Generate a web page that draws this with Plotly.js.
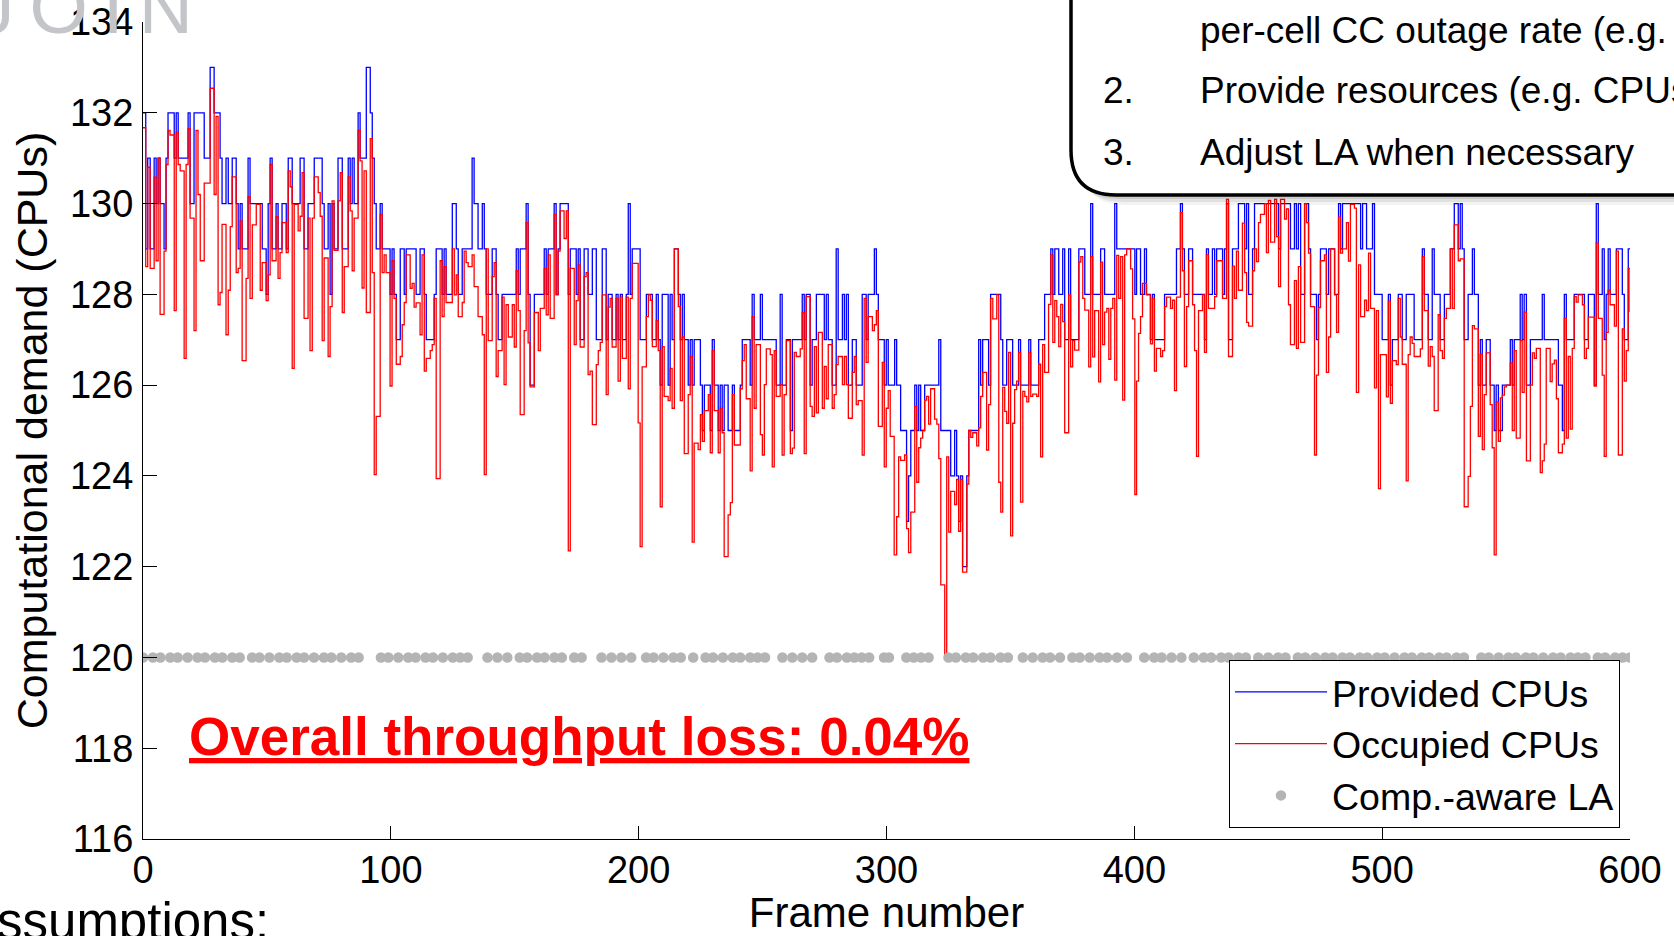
<!DOCTYPE html>
<html>
<head>
<meta charset="utf-8">
<script src="https://cdn.plot.ly/plotly-3.0.1.min.js"></script>
<style>
html,body{margin:0;padding:0;background:#ffffff;}
#chart{width:1674px;height:936px;}
</style>
</head>
<body>
<div id="chart"></div>
<script>
// ---------------- DATA ----------------
// Provided CPUs: [frame where the step starts, number of CPUs]
const providedSteps = [
[0,132],[1.1,129],[1.9,131],[2.9,129],[4.5,131],[5.3,130],[6.1,131],[6.9,130],[8.5,129],[9.3,131],[10.1,132],[12.6,131],[13.4,132],[14.2,131],[18.2,132],[19,130],[20.6,132],[24.7,131],[27.1,133],[28.7,132],[31.1,131],[31.9,130],[33.5,131],[34.4,130],[36,131],[37.6,130],[38.4,129],[39.2,130],[40,129],[42.4,131],[43.2,130],[48.1,129],[49.7,128],[50.5,130],[51.3,131],[52.1,129],[53.7,130],[54.5,129],[56.1,130],[57.8,129],[58.6,131],[60.2,130],[63.4,131],[65,129],[66.6,130],[69.1,131],[72.3,130],[73.1,129],[74.7,130],[75.5,128],[76.3,130],[77.1,129],[78.7,131],[80.4,129],[82.8,131],[83.6,130],[84.4,131],[85.2,130],[86.8,132],[87.6,131],[90.1,133],[91.7,132],[92.5,131],[93.3,130],[94.1,129],[95.7,130],[96.5,129],[99.7,128],
[100.5,129],[101.3,128],[102.2,127],[103.8,129],[105.4,128],[106.2,129],[110.2,128],[111.8,129],[113.5,128],[114.3,127],[117.5,128],[118.3,129],[120.7,128],[121.5,129],[122.3,128],[124.8,130],[126.4,129],[127.2,128],[128.8,129],[132.8,131],[133.6,130],[135.2,129],[136.9,130],[137.7,129],[138.5,128],[140.9,129],[142.5,128],[143.3,127],[144.9,128],[150.6,129],[151.4,128],[152.2,129],[154.6,130],[155.4,128],[156.2,126],[157.9,128],[161.9,129],[162.7,128],[163.5,129],[165.9,130],[166.7,128],[167.5,129],[168.3,130],[171.6,128],[172.4,129],[174.8,128],[175.6,129],[176.4,127],[178,129],[179.6,128],[181.3,129],[182.9,127],[185.3,129],[186.9,127],[187.7,128],[189.3,127],[190.9,128],[191.7,127],[192.6,128],[193.4,127],[195,128],[195.8,130],[196.6,128],[197.4,129],[200.6,127],
[203.1,128],[205.5,127],[207.1,128],[207.9,127],[208.7,126],[209.5,128],[211.9,126],[212.7,128],[213.5,127],[214.4,129],[216,128],[216.8,127],[217.6,128],[218.4,127],[220,126],[220.8,127],[221.6,126],[222.4,127],[224.9,126],[225.7,125],[226.5,126],[228.9,125],[229.7,127],[230.5,126],[232.1,125],[232.9,126],[233.7,125],[234.5,126],[236.1,125],[237.8,126],[238.6,125],[241,126],[241.8,127],[245,126],[245.8,128],[246.6,127],[249.1,128],[249.9,127],[255.5,126],[257.1,128],[257.9,126],[259.6,127],[261.2,125],[262,127],[266,128],[266.8,127],[267.6,128],[269.2,126],[270,127],[271.7,128],[274.9,127],[275.7,128],[276.5,127],[278.1,126],[279.7,129],[280.5,127],[282.2,128],[283,127],[283.8,128],[284.6,126],[286.2,127],[287.8,126],[290.2,128],[291.8,127],[292.6,128],[295.1,129],[295.9,128],[296.7,127],[299.1,126],[299.9,127],[300.7,126],
[303.3,127],[304.1,126],[305.7,125],[308.1,123],[308.9,124],[309.8,125],[311.4,126],[312.2,125],[313,126],[313.8,125],[315.4,126],[321.1,127],[321.9,125],[325.9,124],[327.5,125],[328.3,124],[329.1,123],[329.9,124],[330.7,122],[332.4,124],[333.2,125],[337.2,127],[338,126],[338.8,127],[341.2,126],[342,128],[346.1,127],[346.9,126],[348.5,127],[350.9,126],[353.3,127],[354.1,126],[357.4,127],[358.2,126],[361.4,127],[363.8,128],[366.3,129],[367.1,128],[367.9,129],[369.5,128],[371.1,129],[371.9,127],[373.5,129],[374.3,127],[377.6,129],[380,128],[382.4,130],[383.2,128],[386.4,129],[388,128],[392.1,130],[392.9,129],
[400.2,128],[400.9,129],[402.5,128],[404.1,129],[404.9,128],[406.5,127],[407.3,128],[408.1,127],[412.2,128],[417,129],[418.6,130],[419.4,129],[420.2,128],[421.9,129],[423.5,128],[428.3,127],[429.1,129],[429.9,128],[431.5,129],[432.4,128],[433.2,129],[435.6,128],[436.4,129],[437.2,130],[438,127],[439.6,129],[442,130],[444.5,129],[445.3,130],[446.1,128],[447.7,129],[448.5,130],[458.2,129],[459,130],[463,129],[464.6,130],[465.4,129],[466.2,130],[467.1,128],[468.7,130],[470.3,129],[471.1,128],[473.5,127],[474.3,128],[475.1,129],[477.5,128],[478.4,129],[480.8,128],[482.4,130],[483.2,129],[484,130],[491.3,129],[492.1,130],[493.7,129],[496.1,130],[496.9,128],
[500,127],[502.5,128],[503.3,126],[504.1,127],[506.5,128],[508.1,127],[509.7,128],[512.9,127],[516.2,129],[517,128],[518.6,127],[520.2,129],[521,128],[523.4,127],[525.1,128],[527.5,129],[529.1,130],[530.7,129],[531.5,130],[532.3,129],[533.1,127],[534.7,128],[536.4,129],[537.2,128],[538.8,126],[539.6,127],[540.4,126],[542,127],[543.6,126],[545.2,125],[546,126],[546.9,125],[548.5,126],[551.7,127],[552.5,126],[553.3,127],[555.7,128],[556.5,127],[557.3,128],[558.2,126],[559.8,127],[564.6,128],[565.4,127],[571.1,126],[572.7,125],[573.5,128],[574.3,127],[577.5,128],[581.6,127],[583.2,128],[585.6,126],[586.4,130],[587.2,128],[588.8,129],[589.6,127],[590.4,128],[591.2,129],[592,128],[594.5,129],[596.9,128],[597.7,127],[599.3,129],[600,129]
];

// Occupied CPUs: [frame where the step starts, occupied CPUs]
const occupiedSteps = [
[0,131.67],[1.1,128.61],[1.9,130.8],[2.9,128.57],[4.5,130.58],[5.3,128.74],[6.1,131.0],[6.9,127.56],[8.5,128.95],[9.3,130.86],[10.1,131.61],[10.9,131.51],[12.6,127.64],[13.4,131.57],[14.2,130.86],[15,130.72],[16.6,126.59],[17.4,130.86],[18.2,131.65],[19,129.68],[20.6,127.2],[21.4,131.61],[22.2,130.2],[23.1,128.74],[24.7,130.45],[27.1,132.54],[28.7,130.2],[29.5,131.92],[30.3,127.77],[31.1,128.04],[31.9,129.54],[33.5,127.11],[34.4,128.09],[35.2,129.49],[36,130.59],[37.6,128.48],[38.4,128.57],[39.2,129.62],[40,126.54],[41.6,128.35],[42.4,130.15],[43.2,127.91],[44.1,129.53],[45.7,129.98],[47.3,128.09],[48.1,128.7],[49.7,127.86],[50.5,128.43],[51.3,130.86],[52.1,128.74],[53.7,129.71],[54.5,128.35],[55.3,128.92],[56.1,129.58],[57.8,128.92],[58.6,130.72],[59.4,130.37],[60.2,126.37],[61,129.98],[62.6,129.4],[63.4,129.72],[64.2,130.68],[65,127.47],[66.6,129.68],[67.4,126.76],[68.3,129.68],[69.1,130.59],[70.7,130.24],[71.5,129.72],[72.3,126.98],[73.1,128.8],[74.7,126.63],[75.5,127.73],[76.3,130.06],[77.1,128.97],[78.7,130.06],[79.6,130.68],[80.4,127.6],[81.2,128.61],[82.8,130.59],[83.6,129.84],[84.4,128.52],[85.2,129.68],[86.8,131.61],[87.6,130.94],[88.4,128.14],[89.2,130.72],[90.1,127.6],[91.7,131.43],[92.5,128.48],[93.3,124.03],[94.1,125.31],[95.7,129.76],[96.5,128.48],[97.3,128.87],[98.1,128.48],[99.7,125.98],
[100.5,128.74],[101.3,127.91],[102.2,126.46],[103.8,126.63],[104.6,127.33],[105.4,127.82],[106.2,128.87],[107.8,128.13],[108.6,128.24],[109.4,127.72],[110.2,127.81],[111.8,127.11],[112.6,128.87],[113.5,126.31],[114.3,126.59],[115.9,126.76],[116.7,126.89],[117.5,127.91],[118.3,123.94],[119.9,128.74],[120.7,127.51],[121.5,128.61],[122.3,127.82],[124.8,129.0],[125.6,127.99],[126.4,128.43],[127.2,127.51],[128.8,127.82],[129.6,128.95],[130.4,128.7],[131.2,128.61],[132.8,128.87],[133.6,128.17],[135.2,127.51],[136.9,127.11],[137.7,124.03],[138.5,129.0],[139.3,126.98],[140.9,128.39],[141.7,128.7],[142.5,126.19],[143.3,126.76],[144.9,127.94],[145.7,126.01],[146.5,127.77],[147.4,127.06],[149,127.77],[149.8,126.84],[150.6,128.52],[151.4,127.64],[152.2,125.35],[153.8,127.2],[154.6,129.58],[155.4,126.93],[156.2,125.96],[157.9,127.6],[159.5,126.76],[160.3,127.69],[161.9,128.57],[162.7,127.55],[163.5,128.87],[164.3,127.47],[165.9,129.76],[166.7,127.99],[167.5,128.95],[168.3,129.84],[169.9,129.23],[170.8,129.84],[171.6,122.35],[172.4,128.57],[174,126.89],[174.8,127.86],[175.6,128.65],[176.4,126.84],[178,128.39],[178.8,128.48],[179.6,126.23],[180.4,126.31],[181.3,125.13],[182.9,126.45],[183.7,126.76],[184.5,126.94],[185.3,127.99],[186.9,125.79],[187.7,127.72],[188.5,127.91],[189.3,126.84],[190.9,127.91],[191.7,126.09],[192.6,127.94],[193.4,126.59],[195,127.94],[195.8,125.92],[196.6,127.91],[197.4,128.68],[199.8,125.17],[200.6,122.44],[201.4,126.4],
[203.1,127.51],[203.9,127.99],[204.7,127.87],[205.5,126.85],[207.1,127.42],[207.9,126.76],[208.7,123.32],[209.5,126.85],[210.3,125.75],[211.9,125.66],[212.7,126.37],[213.5,125.49],[214.4,129.0],[216,127.73],[216.8,125.66],[217.6,127.06],[218.4,124.49],[220,125.79],[220.8,126.63],[221.6,122.54],[222.4,124.72],[224,124.58],[224.9,125.35],[225.7,124.76],[226.5,125.44],[228.1,125.79],[228.9,124.51],[229.7,126.76],[230.5,125.44],[232.1,124.51],[232.9,125.49],[233.7,124.95],[234.5,122.22],[236.1,123.14],[237,123.41],[237.8,125.79],[238.6,124.68],[241,125.92],[241.8,126.54],[242.6,126.89],[243.4,125.7],[245,124.11],[245.8,127.51],[246.6,125.49],[247.4,126.89],[249.1,124.91],[249.9,124.46],[250.7,126.01],[251.5,126.8],[253.1,126.67],[253.9,124.2],[254.7,126.76],[255.5,125.75],[257.1,126.01],[257.9,124.46],[258.7,125.79],[259.6,126.98],[261.2,124.49],[262,124.61],[262.8,126.72],[263.6,126.63],[265.2,126.8],[266,127.6],[266.8,124.49],[267.6,127.95],[269.2,125.53],[270,125.31],[270.9,126.85],[271.7,125.39],[272.5,127.16],[274.1,125.49],[274.9,126.41],[275.7,125.7],[276.5,126.89],[278.1,125.49],[278.9,125.79],[279.7,126.45],[280.5,126.63],[282.2,126.01],[283,126.63],[283.8,126.01],[284.6,125.27],[286.2,126.28],[287,126.63],[287.8,125.57],[288.6,125.66],[290.2,124.46],[291,127.91],[291.8,126.5],[292.6,127.51],[294.3,127.2],[295.1,127.33],[295.9,127.64],[296.7,125.09],[298.3,126.5],[299.1,124.2],[299.9,125.49],[300.7,125.88],[301.5,124.87],[303.1,122.26],
[304.1,123.1],[304.9,124.42],[305.7,124.34],[307.3,124.46],[308.1,122.84],[308.9,122.31],[309.8,123.2],[311.4,125.53],[312.2,123.86],[313,124.62],[313.8,124.83],[314.6,125.0],[315.4,125.67],[316.2,125.75],[317,125.14],[317.8,125.92],[319.4,125.25],[320.3,125.14],[321.1,124.38],[321.9,121.6],[323.5,120.0],[324.3,124.42],[325.1,122.76],[325.9,123.66],[327.5,123.37],[328.3,123.92],[329.1,122.78],[329.9,123.92],[330.7,121.88],[332.4,123.82],[333.2,125.0],[334,124.85],[334.8,124.95],[336.4,124.66],[337.2,125.06],[338,125.75],[338.8,126.28],[340.4,124.57],[341.2,125.57],[342,127.91],[342.9,127.46],[344.5,127.99],[345.3,123.86],[346.1,123.2],[346.9,125.95],[347.7,125.42],[348.5,125.16],[349.3,126.72],[350.1,122.68],[350.9,125.16],[351.7,125.9],[352.5,126.09],[353.3,126.72],[354.1,123.42],[355,125.86],[355.8,125.75],[356.6,125.63],[357.4,126.72],[358.2,125.75],[359,125.8],[360.6,125.75],[361.4,126.46],[362.2,124.42],[363,126.89],[363.8,126.28],[365.4,127.78],[366.3,128.87],[367.1,126.94],[367.9,127.86],[368.7,127.51],[369.5,126.85],[370.3,127.78],[371.1,127.4],[371.9,124.95],[373.5,127.99],[374.3,126.4],[375.1,126.98],[375.9,126.77],[377.6,128.71],[378.4,128.83],[379.2,127.91],[380,127.65],[381.6,126.4],[382.4,128.83],[383.2,126.62],[384,127.64],[385.6,126.07],[386.4,128.71],[387.2,126.89],[388,127.61],[388.9,127.69],[389.7,126.57],[390.5,127.69],[391.3,127.91],[392.1,126.11],[392.9,128.86],[393.7,127.91],[394.5,128.83],[395.3,125.67],[396.1,128.87],[396.9,129.0],[398.5,128.56],[399.3,127.46],[400.2,123.59],
[400.9,126.09],[401.7,127.14],[402.5,127.51],[403.3,128.24],[404.9,127.99],[406.5,126.91],[407.3,127.91],[408.1,126.31],[408.9,126.81],[410.6,126.63],[411.4,126.76],[412.2,127.73],[413,127.94],[414.6,127.69],[415.4,127.87],[416.2,125.88],[417,127.94],[418.6,129.8],[419.4,128.52],[420.2,126.41],[421.1,127.73],[421.9,128.74],[423.5,127.77],[424.3,126.76],[425.1,124.43],[425.9,127.64],[427.5,127.99],[428.3,126.72],[429.1,128.87],[429.9,127.69],[432.4,127.95],[433.2,128.74],[435.6,127.91],[437.2,130.09],[438,126.63],[439.6,128.62],[440.4,127.91],[441.2,128.95],[442,128.09],[443.6,129.57],[444.5,128.48],[445.3,127.38],[446.1,127.3],[447.7,128.52],[448.5,129.0],[449.3,128.72],[450.1,129.58],[450.9,129.76],[452.5,130.0],[453.3,128.92],[454.1,130.07],[455,129.15],[456.6,130.09],[457.4,129.27],[458.2,128.17],[459,130.09],[460.6,129.66],[461.4,129.88],[462.2,127.77],[463,126.89],[464.6,128.3],[465.4,126.81],[466.2,128.61],[467.1,126.94],[468.7,130.0],[469.5,129.58],[470.3,128.91],[471.1,127.73],[472.7,124.46],[473.5,126.22],[474.3,127.71],[475.1,128.74],[476.7,128.87],[477.5,126.28],[478.4,127.06],[479.2,129.0],[480.8,127.99],[481.6,127.16],[482.4,129.7],[483.2,128.91],[484,129.0],[485.6,129.58],[486.4,128.73],[487.2,129.98],[488.8,129.9],[489.6,125.84],[490.5,128.65],[491.3,127.51],[492.9,127.87],[493.7,127.64],[494.5,128.91],[495.3,127.69],[496.9,125.94],[497.7,127.64],[498.5,123.72],[499.3,126.67],
[501.7,125.74],[502.5,127.85],[503.3,125.6],[504.1,126.54],[505.7,126.45],[506.5,127.91],[507.3,127.06],[508.1,126.46],[509.7,123.89],[510.5,126.67],[511.3,127.06],[512.1,126.92],[512.9,126.63],[515.4,126.8],[516.2,128.83],[517,127.64],[518.6,126.42],[519.4,126.85],[520.2,126.63],[521,125.44],[522.6,127.55],[523.4,126.76],[524.3,126.59],[525.1,127.47],[525.9,127.69],[527.5,129.0],[528.3,127.69],[529.1,129.53],[530.7,128.74],[531.5,128.78],[533.1,123.32],[534.7,123.99],[535.6,125.53],[536.4,127.31],[537.2,127.24],[538.8,124.87],[539.6,126.69],[540.4,124.58],[541.2,125.79],[542,126.71],[543.6,125.57],[544.4,124.62],[545.2,122.26],[546,125.63],[546.9,124.76],[547.7,125.72],[548.5,125.78],[549.3,125.96],[550.1,126.0],[551.7,126.49],[552.5,125.0],[553.3,126.76],[554.1,124.83],[555.7,126.98],[556.5,125.84],[557.3,127.61],[558.2,124.33],[559.8,126.0],[560.6,126.71],[561.4,126.59],[562.2,126.81],[563.8,124.07],[564.6,124.33],[565.4,124.7],[566.2,126.81],[567.8,126.08],[568.6,126.47],[569.5,126.55],[570.3,125.7],[571.1,124.51],[572.7,124.7],[573.5,127.47],[574.3,124.83],[575.1,126.63],[575.9,125.03],[576.7,126.81],[577.5,127.95],[578.3,127.83],[579.1,127.99],[580.8,127.77],[581.6,126.59],[582.4,126.81],[583.2,127.5],[585.6,125.98],[586.4,129.13],[587.2,127.47],[588.8,126.22],[589.6,124.43],[590.4,127.16],[591.2,128.09],[592,127.77],[593.7,127.3],[594.5,128.95],[595.3,124.46],[596.9,127.24],[597.7,126.09],[598.5,126.76],[599.3,128.57],[600,127.61]
];

// Frames marked by computation-aware link adaptation (drawn at the 120-CPU level)
const laFrames = [
0,4,7,11,14,18,22,25,29,32,36,39,
44,47,51,55,58,62,65,69,73,76,80,84,87,
96,99,103,107,110,114,117,121,125,128,131,
139,143,147,
152,155,159,162,166,169,
174,177,
185,189,193,197,
203,206,210,214,217,
222,
227,230,234,238,241,245,248,251,
258,262,266,270,
277,280,284,287,290,293,
299,301,
308,311,314,317,
325,328,332,335,339,342,346,349,
355,359,363,366,370,
375,378,382,386,389,393,397,
404,408,411,415,419,
424,428,431,435,438,442,445,
450,454,458,461,
466,469,473,477,480,484,487,491,494,498,501,505,509,512,516,519,523,526,530,533,
540,543,547,551,554,558,561,565,569,572,576,579,582,
587,590,594,597,600
];
const laLevel = [120];

const xTickVals = [0,100,200,300,400,500,600];
const yTickVals = [116,118,120,122,124,126,128,130,132,134];

const seriesNames = ['Provided CPUs','Occupied CPUs','Comp.-aware LA'];
const xTitle = 'Frame number';
const yTitle = 'Computational demand (CPUs)';
const lossText = 'Overall throughput loss: 0.04%';
const boxLines = ['per-cell CC outage rate (e.g.','Provide resources (e.g. CPUs)','Adjust LA when necessary'];
const boxNumbers = ['2.','3.'];

// ---------------- helpers (pixel placement of decorations) ----------------
const W = 1674, H = 936;
const M = {l:143, r:44, t:22, b:97};
const PW = W - M.l - M.r, PH = H - M.t - M.b;
const PX = x => (x - M.l) / PW;
const PY = y => (H - M.b - y) / PH;

const FONT = 'Arial, "Liberation Sans", sans-serif';

const traces = [
  {
    x: providedSteps.map(p => p[0]), y: providedSteps.map(p => p[1]),
    type: 'scatter', mode: 'lines', name: seriesNames[0],
    line: {color: '#0000ff', width: 1.3, shape: 'hv', simplify: false}
  },
  {
    x: occupiedSteps.map(p => p[0]), y: occupiedSteps.map(p => p[1]),
    type: 'scatter', mode: 'lines', name: seriesNames[1],
    line: {color: '#ff0000', width: 1.3, shape: 'hv', simplify: false}
  },
  {
    x: laFrames, y: laFrames.map(() => laLevel[0]),
    type: 'scatter', mode: 'markers', name: seriesNames[2],
    marker: {color: '#b4b4b4', size: 10.5, line: {width: 0}}
  }
];

// callout box (rounded corner at bottom-left, extends past the top/right edges)
function boxPath(dx, dy) {
  const x0 = PX(1071 + dx), x1 = PX(1116 + dx), x2 = PX(1760);
  const yT = PY(-40), yC = PY(150 + dy), yB = PY(195 + dy);
  return `M${x0},${yT} L${x0},${yC} Q${x0},${yB} ${x1},${yB} L${x2},${yB} L${x2},${yT} Z`;
}
const shapes = [];
[[10,10,0.05],[7,7,0.07],[4,4,0.09]].forEach(([dx,dy,op]) => {
  shapes.push({type:'path', xref:'paper', yref:'paper', path: boxPath(dx,dy),
    fillcolor:`rgba(0,0,0,${op})`, line:{width:0}, layer:'above'});
});
shapes.push({type:'path', xref:'paper', yref:'paper', path: boxPath(0,0),
  fillcolor:'#ffffff', line:{color:'#000000', width:3.5}, layer:'above'});

const ann = (text, px, py, size, opts) => Object.assign({
  text, x: PX(px), y: PY(py), xref:'paper', yref:'paper',
  xanchor:'left', yanchor:'middle', showarrow:false,
  font:{family: FONT, size, color:'#000000'}
}, opts || {});

const annotations = [
  // watermark logo fragment
  ann('<span style="letter-spacing:15px">JOIN</span>', -25, 7, 75, {font:{family:FONT, size:75, color:'#c3c5c8'}}),
  // red headline
  ann('<b><u>' + lossText + '</u></b>', 187, 736, 53, {font:{family:FONT, size:53, color:'#ff0000'}}),
  // callout texts
  ann(boxLines[0], 1198, 30, 37),
  ann(boxNumbers[0], 1101, 91, 37),
  ann(boxLines[1], 1198, 91, 37),
  ann(boxNumbers[1], 1101, 152, 37),
  ann(boxLines[2], 1198, 152, 37),
  // slide text cut at the bottom-left
  ann('Assumptions:', -39, 921, 51)
];

const layout = {
  width: W, height: H,
  margin: M,
  paper_bgcolor: '#ffffff', plot_bgcolor: '#ffffff',
  font: {family: FONT, size: 38, color: '#000000'},
  showlegend: true,
  legend: {
    x: PX(1620), xanchor: 'right', y: PY(828), yanchor: 'bottom',
    bgcolor: '#ffffff', bordercolor: '#000000', borderwidth: 1,
    font: {family: FONT, size: 37.5, color: '#000000'},
    itemwidth: 92, tracegroupgap: 0
  },
  xaxis: {
    range: [0, 600], tickvals: xTickVals, ticktext: xTickVals.map(String),
    ticks: 'inside', ticklen: 13, tickwidth: 1, tickcolor: '#000000',
    showline: true, linecolor: '#000000', linewidth: 1, mirror: false,
    showgrid: false, zeroline: false,
    tickfont: {family: FONT, size: 38, color: '#000000'},
    ticklabelstandoff: -3,
    title: {text: xTitle, font: {family: FONT, size: 42, color: '#000000'}, standoff: 18}
  },
  yaxis: {
    range: [116, 134], tickvals: yTickVals, ticktext: yTickVals.map(String),
    ticks: 'inside', ticklen: 14, tickwidth: 1, tickcolor: '#000000',
    showline: true, linecolor: '#000000', linewidth: 1, mirror: false,
    showgrid: false, zeroline: false,
    tickfont: {family: FONT, size: 38, color: '#000000'},
    ticklabelstandoff: 1,
    title: {text: yTitle, font: {family: FONT, size: 43, color: '#000000'}, standoff: 8}
  },
  shapes, annotations
};

Plotly.newPlot('chart', traces, layout, {displayModeBar: false, staticPlot: true});
</script>
</body>
</html>
